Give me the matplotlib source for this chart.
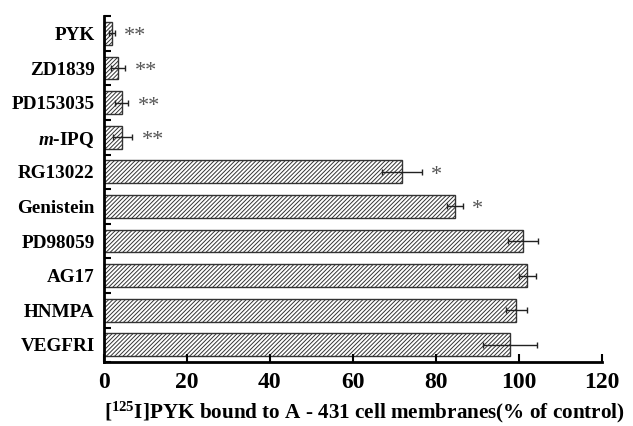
import matplotlib
matplotlib.use('Agg')
import matplotlib.pyplot as plt
import numpy as np

plt.rcParams['font.family'] = ['Liberation Serif', 'DejaVu Serif']
plt.rcParams['font.weight'] = 'bold'
plt.rcParams['mathtext.fontset'] = 'custom'
plt.rcParams['mathtext.rm'] = 'Liberation Serif:bold'
plt.rcParams['mathtext.it'] = 'Liberation Serif:italic:bold'
plt.rcParams['mathtext.bf'] = 'Liberation Serif:bold'
plt.rcParams['hatch.color'] = '#444444'
plt.rcParams['hatch.linewidth'] = 0.7

# top to bottom, as in the figure
labels = ['PYK', 'ZD1839', 'PD153035', r'$\it{m}$-IPQ', 'RG13022',
          'Genistein', 'PD98059', 'AG17', 'HNMPA', 'VEGFRI']
values = [2.0, 3.5, 4.3, 4.5, 71.8, 84.6, 101.0, 102.0, 99.4, 97.8]
errors = [0.7, 1.7, 1.6, 2.4, 4.9, 1.9, 3.6, 2.1, 2.6, 6.5]
marks = ['**', '**', '**', '**', '*', '*', '', '', '', '']

fig = plt.figure(figsize=(6.33, 4.26), dpi=100)
ax = fig.add_axes([0.164, 0.150, 0.787, 0.812])

y = np.arange(len(labels))[::-1]
ax.barh(y, values, height=0.66, color='white', edgecolor='#333333',
        linewidth=1.0, hatch='////////')
ax.errorbar(values, y, xerr=errors, fmt='none', ecolor='#222222',
            elinewidth=1.0, capsize=2.2, capthick=1.0)

for yi, v, e, m in zip(y, values, errors, marks):
    if m:
        ax.text(v + e + 2.2, yi - 0.23, m, ha='left', va='baseline',
                color='#555555', fontsize=16, fontweight='normal')

ax.set_xlim(0, 120)
ax.set_ylim(-0.5, len(labels) - 0.5)
ax.set_xticks(range(0, 121, 20))
ax.set_yticks(y)
ax.set_yticklabels(labels, fontsize=13.8, fontweight='bold')
ax.set_yticks(np.arange(-0.5, len(labels), 1.0), minor=True)
ax.tick_params(axis='y', which='major', length=0, pad=6.5)
ax.tick_params(axis='y', which='minor', direction='in', length=5, width=1.5)
ax.tick_params(axis='x', direction='in', length=6, width=1.5, labelsize=17, pad=7)
for lab in ax.get_xticklabels():
    lab.set_fontweight('bold')

ax.spines['top'].set_visible(False)
ax.spines['right'].set_visible(False)
ax.spines['left'].set_linewidth(2)
ax.spines['bottom'].set_linewidth(2)

ax.set_xlabel(r'[$^{125}$I]PYK bound to A - 431 cell membranes(% of control)',
              fontsize=15.2, fontweight='bold', labelpad=5)
ax.xaxis.label.set_x(0.524)

fig.savefig('out.png', dpi=100)
